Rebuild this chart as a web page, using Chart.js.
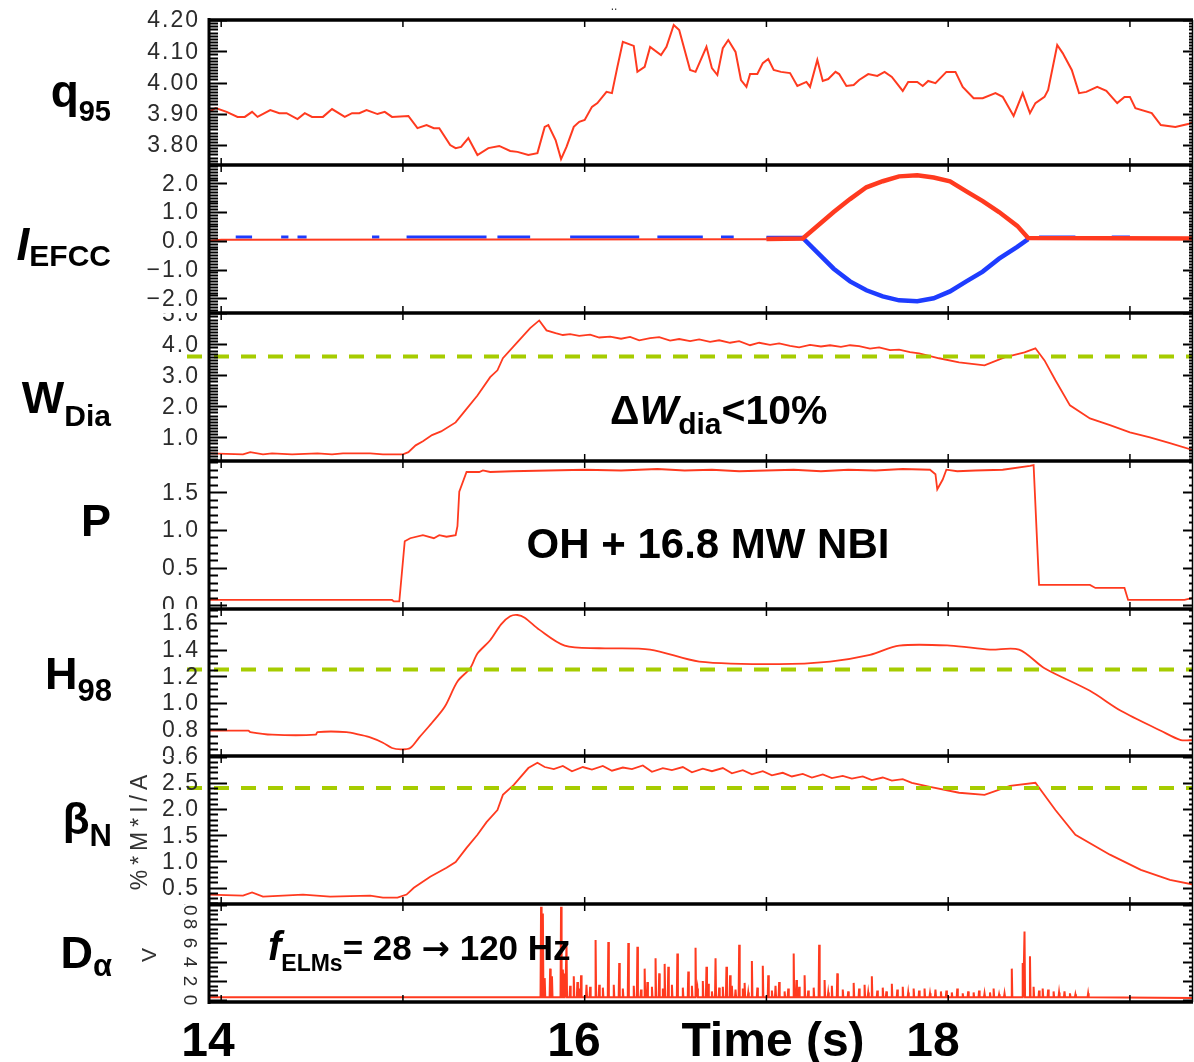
<!DOCTYPE html>
<html><head><meta charset="utf-8">
<script src="https://cdn.jsdelivr.net/npm/chart.js@4.4.1/dist/chart.umd.min.js"></script>
<style>
html,body{margin:0;padding:0;background:#fff;}
#wrap{position:relative;width:1194px;height:1062px;overflow:hidden;background:#fff;}
#wrap canvas{position:absolute;left:0;}
</style></head><body><div id="wrap"></div>
<script>
// ================= DATA =================
const timeTicks = [14, 15, 16, 17, 18, 19];
const bottomTimeLabels = ['14', '16', '18'];

// q95
const q95Ticks = [3.80, 3.90, 4.00, 4.10, 4.20];
const q95Time = [13.93,13.97,14.03,14.09,14.13,14.17,14.20,14.27,14.32,14.36,14.42,14.46,14.50,14.56,14.61,14.68,14.72,14.76,14.80,14.86,14.90,14.94,15.03,15.08,15.13,15.17,15.20,15.26,15.29,15.32,15.36,15.41,15.47,15.53,15.59,15.63,15.69,15.74,15.78,15.80,15.84,15.87,15.90,15.94,15.97,16.00,16.04,16.07,16.12,16.15,16.18,16.21,16.27,16.29,16.33,16.36,16.42,16.45,16.49,16.52,16.58,16.61,16.67,16.70,16.73,16.76,16.79,16.83,16.86,16.89,16.91,16.95,16.98,17.01,17.04,17.08,17.13,17.17,17.22,17.24,17.28,17.31,17.34,17.38,17.40,17.44,17.48,17.51,17.56,17.61,17.65,17.69,17.75,17.78,17.83,17.86,17.89,17.93,17.99,18.04,18.08,18.14,18.19,18.26,18.30,18.36,18.41,18.45,18.48,18.53,18.55,18.60,18.63,18.68,18.72,18.76,18.82,18.87,18.93,18.97,19.00,19.03,19.12,19.17,19.25,19.32,19.35];
const q95Value = [3.906,3.918,3.906,3.890,3.890,3.906,3.890,3.912,3.902,3.902,3.883,3.902,3.890,3.890,3.915,3.890,3.902,3.902,3.912,3.899,3.906,3.890,3.893,3.854,3.864,3.854,3.854,3.800,3.790,3.794,3.822,3.768,3.790,3.797,3.781,3.778,3.768,3.774,3.858,3.864,3.816,3.755,3.794,3.858,3.874,3.880,3.922,3.934,3.970,3.966,4.050,4.130,4.117,4.034,4.050,4.114,4.088,4.114,4.184,4.168,4.040,4.034,4.114,4.046,4.024,4.110,4.136,4.098,4.008,3.986,4.027,4.027,4.062,4.075,4.040,4.034,4.030,3.989,4.002,3.986,4.072,4.005,4.011,4.034,4.027,3.989,3.992,4.008,4.027,4.021,4.034,4.018,3.973,4.002,4.002,3.989,4.005,3.998,4.034,4.034,3.986,3.950,3.950,3.966,3.954,3.893,3.966,3.902,3.934,3.954,3.976,4.120,4.094,4.040,3.966,3.970,3.986,3.973,3.934,3.954,3.954,3.918,3.902,3.864,3.858,3.867,3.874];

// I_EFCC (kA): red and blue coil currents
const efccTicks = [-2.0, -1.0, 0.0, 1.0, 2.0];
const efccRedFlatTime = [13.93, 14.00, 17.00];
const efccRedFlatValue = [0.00, 0.04, 0.05];
const efccRedTime = [17.00,17.20,17.37,17.46,17.55,17.64,17.73,17.83,17.92,18.01,18.10,18.19,18.28,18.38,18.44,19.35];
const efccRedValue = [0.06,0.08,1.00,1.45,1.86,2.07,2.24,2.28,2.20,2.07,1.72,1.38,1.00,0.52,0.10,0.08];
const efccBlueTime = [17.00,17.20,17.37,17.46,17.55,17.64,17.73,17.83,17.92,18.01,18.10,18.19,18.28,18.38,18.44];
const efccBlueValue = [0.10,0.10,-0.97,-1.41,-1.72,-1.93,-2.07,-2.10,-2.00,-1.76,-1.41,-1.07,-0.62,-0.21,0.06];
const efccBlueLevel = 0.13;
const efccBlueSegStart = [14.08,14.33,14.42,14.83,15.02,15.52,15.92,16.40,16.75,18.50,18.90];
const efccBlueSegEnd   = [14.17,14.37,14.47,14.87,15.46,15.70,16.30,16.65,16.82,18.70,19.00];

// W_Dia (MJ)
const wdiaTicks = [1.0, 2.0, 3.0, 4.0, 5.0];
const wdiaRef = 3.61;
const wdiaTime = [13.93,14.12,14.16,14.23,14.28,14.39,14.53,14.61,14.67,14.82,14.89,15.00,15.03,15.07,15.11,15.16,15.21,15.29,15.33,15.41,15.48,15.52,15.55,15.63,15.70,15.75,15.79,15.84,15.88,15.92,15.97,16.03,16.08,16.14,16.20,16.25,16.30,16.36,16.41,16.47,16.52,16.58,16.63,16.69,16.74,16.80,16.85,16.91,16.96,17.02,17.07,17.13,17.18,17.24,17.30,17.35,17.41,17.46,17.51,17.57,17.62,17.68,17.73,17.79,17.84,17.95,18.06,18.20,18.31,18.42,18.48,18.53,18.59,18.67,18.78,18.89,19.00,19.11,19.22,19.35];
const wdiaValue = [0.48,0.45,0.52,0.45,0.48,0.45,0.48,0.45,0.48,0.48,0.45,0.45,0.52,0.74,0.87,1.07,1.19,1.48,1.77,2.35,2.94,3.16,3.55,4.07,4.52,4.77,4.45,4.36,4.30,4.33,4.27,4.31,4.22,4.25,4.18,4.24,4.13,4.20,4.23,4.12,4.17,4.10,4.16,4.08,4.13,4.05,4.10,3.97,4.05,3.98,4.03,3.95,3.90,3.98,3.93,3.97,3.92,3.97,3.94,3.86,3.90,3.81,3.83,3.75,3.71,3.55,3.42,3.32,3.58,3.74,3.87,3.48,2.84,2.03,1.61,1.39,1.16,1.00,0.81,0.58];

// P (x10 MW)
const pTicks = [0.0, 0.5, 1.0, 1.5];
const pTime = [13.93,14.94,14.95,14.98,15.01,15.04,15.11,15.17,15.20,15.24,15.29,15.30,15.31,15.35,15.42,15.44,15.48,15.60,15.80,16.00,16.20,16.40,16.55,16.70,16.85,17.00,17.15,17.30,17.45,17.60,17.75,17.90,17.93,17.94,17.97,17.99,18.05,18.15,18.30,18.45,18.47,18.50,18.78,18.81,18.97,18.99,19.30,19.35];
const pValue = [0.07,0.07,0.05,0.05,0.85,0.89,0.93,0.89,0.93,0.91,0.93,1.05,1.51,1.77,1.77,1.79,1.77,1.78,1.79,1.80,1.79,1.81,1.79,1.80,1.78,1.79,1.80,1.78,1.80,1.79,1.81,1.80,1.74,1.54,1.67,1.80,1.78,1.79,1.80,1.85,1.86,0.27,0.27,0.23,0.23,0.07,0.07,0.10];

// H98
const h98Ticks = [0.6, 0.8, 1.0, 1.2, 1.4, 1.6];
const h98Ref = 1.25;
const h98Time = [13.93,14.15,14.16,14.28,14.52,14.53,14.69,14.76,14.82,14.89,14.94,14.99,15.04,15.09,15.16,15.23,15.30,15.37,15.41,15.48,15.54,15.59,15.63,15.67,15.75,15.89,16.08,16.36,16.63,17.07,17.35,17.57,17.73,18.01,18.23,18.39,18.53,18.78,18.95,19.17,19.28,19.35];
const h98Value = [0.79,0.79,0.78,0.76,0.76,0.78,0.78,0.76,0.74,0.70,0.66,0.65,0.66,0.74,0.85,0.97,1.16,1.26,1.37,1.47,1.59,1.65,1.66,1.64,1.55,1.43,1.41,1.40,1.31,1.29,1.31,1.36,1.43,1.43,1.40,1.40,1.26,1.09,0.94,0.79,0.72,0.72];

// beta_N
const betaTicks = [0.5, 1.0, 1.5, 2.0, 2.5, 3.0];
const betaRef = 2.40;
const betaTime = [13.93,14.12,14.17,14.23,14.45,14.60,14.82,14.89,14.97,15.02,15.06,15.15,15.24,15.29,15.35,15.41,15.46,15.52,15.55,15.61,15.69,15.74,15.78,15.83,15.88,15.93,15.99,16.04,16.10,16.15,16.21,16.26,16.32,16.37,16.43,16.48,16.54,16.59,16.65,16.70,16.76,16.81,16.87,16.92,16.98,17.03,17.09,17.14,17.20,17.25,17.31,17.36,17.42,17.47,17.53,17.58,17.64,17.69,17.75,17.80,17.90,18.06,18.20,18.34,18.48,18.59,18.70,18.89,19.06,19.22,19.35];
const betaValue = [0.37,0.35,0.41,0.33,0.37,0.33,0.35,0.31,0.31,0.37,0.50,0.71,0.88,0.99,1.26,1.51,1.75,1.98,2.27,2.46,2.78,2.88,2.80,2.76,2.82,2.72,2.80,2.75,2.82,2.73,2.79,2.76,2.83,2.71,2.78,2.74,2.80,2.70,2.77,2.72,2.78,2.68,2.74,2.66,2.72,2.64,2.69,2.62,2.67,2.60,2.66,2.59,2.63,2.58,2.62,2.55,2.60,2.54,2.57,2.50,2.42,2.31,2.27,2.44,2.50,1.98,1.51,1.13,0.84,0.65,0.56];

// D_alpha (V): baseline + ELM spikes
const daTicks = [0, 2, 4, 6, 8, 10];
const daBase = 0.3;
const elmTime = [15.76,15.77,15.78,15.81,15.82,15.87,15.88,15.89,15.90,15.94,15.96,15.98,16.01,16.06,16.08,16.13,16.19,16.24,16.29,16.33,16.345,16.39,16.41,16.44,16.46,16.51,16.57,16.61,16.65,16.67,16.72,16.78,16.80,16.85,16.88,16.92,16.98,17.01,17.07,17.15,17.165,17.21,17.29,17.32,17.39,17.48,17.58,17.69,17.81,18.25,18.35,18.41,18.42,18.45,18.55,18.77];
const elmHeight = [9.8,9.1,2.3,3.3,2.5,9.8,3.2,2.8,5.8,2.5,1.9,2.6,1.6,6.3,1.6,6.1,3.9,6.0,5.6,3.3,1.9,4.4,2.8,3.8,3.5,4.9,3.0,5.5,2.0,3.5,4.4,3.5,2.6,5.8,1.8,4.1,3.6,2.6,1.9,4.9,2.1,2.6,5.8,2.1,2.8,1.8,2.5,1.7,1.2,1.2,3.3,3.9,7.2,4.6,1.1,0.7];
const grassTime = [15.92,15.97,16.03,16.10,16.16,16.21,16.27,16.31,16.37,16.43,16.48,16.54,16.59,16.68,16.74,16.81,16.87,16.62,16.70,16.76,16.83,16.90,16.95,17.03,17.05,17.10,17.12,17.18,17.23,17.26,17.34,17.36,17.42,17.45,17.51,17.54,17.56,17.61,17.64,17.66,17.72,17.75,17.78,17.84,17.87,17.90,17.93,17.96,17.99,18.02,18.05,18.08,18.11,18.14,18.17,18.20,18.23,18.28,18.31,18.47,18.50,18.52,18.58,18.61,18.64,18.67,18.70];
const grassHeight = [1.5,1.2,1.4,1.3,1.6,1.2,1.5,1.1,1.4,1.2,1.6,1.3,1.5,1.7,1.3,1.5,1.2,1.2,0.9,1.4,1.1,0.8,1.3,1.0,1.5,0.9,1.2,1.4,1.0,1.3,0.8,1.5,1.1,0.9,1.2,1.6,0.8,1.0,1.3,0.9,1.1,1.4,0.8,1.0,1.2,0.7,1.1,0.9,1.0,0.8,1.2,0.7,0.9,0.8,1.0,0.7,0.8,0.6,0.7,1.4,1.0,1.2,0.9,0.8,0.9,0.7,0.6];

// ================= STYLE / LAYOUT =================
const RED = '#ff3a1f', BLUE = '#1e3cff', GREEN = '#a6cc00';
const SANS = '"Liberation Sans", Arial, Helvetica, sans-serif';
const X_MIN = 13.933, X_MAX = 19.347;
const LEFT = 209, RIGHT = 1193, W = 1194, H = 1062;

function series(ts, vs) { return ts.map((t, i) => ({ x: t, y: vs[i] })); }
function line(data, color, width, extra) {
  return Object.assign({ data, borderColor: color, borderWidth: width, pointRadius: 0, fill: false, tension: 0 }, extra || {});
}
function blueSegments() {
  const out = [];
  efccBlueSegStart.forEach((s, i) => {
    out.push({ x: s, y: efccBlueLevel }, { x: efccBlueSegEnd[i], y: efccBlueLevel }, { x: efccBlueSegEnd[i] + 0.001, y: null });
  });
  return out;
}
function daSeries() {
  const all = elmTime.map((t, i) => [t, elmHeight[i]]).concat(grassTime.map((t, i) => [t, grassHeight[i]])).sort((a, b) => a[0] - b[0]);
  const out = [{ x: X_MIN, y: daBase }];
  all.forEach(([t, h]) => { out.push({ x: t - 0.003, y: daBase }, { x: t, y: h }, { x: t + 0.003, y: daBase }); });
  out.push({ x: X_MAX, y: daBase * 0.7 });
  return out;
}
const B = s => 'bold ' + s + 'px ' + SANS;
const BI = s => 'italic bold ' + s + 'px ' + SANS;
const ARROW = s => 'bold ' + s + 'px "DejaVu Sans", ' + SANS;

const panels = [
  { top: 20, bottom: 165, yMin: 3.736, yMax: 4.20, ticks: q95Ticks, minor: 0.01, dec: 2,
    datasets: [line(series(q95Time, q95Value), RED, 2)],
    titles: [{ parts: [{ t: 'q', f: B(46) }, { t: '95', f: B(29), dy: 14 }], x: 111, y: 107 }],
    extras: [{ parts: [{ t: '..', f: '12px ' + SANS }], x: 614, y: 10, align: 'center', color: '#333' }] },
  { top: 165, bottom: 313, yMin: -2.51, yMax: 2.635, ticks: efccTicks, minor: 0.1, dec: 1,
    datasets: [
      line(series(efccRedFlatTime, efccRedFlatValue), RED, 2),
      line(series(efccRedTime, efccRedValue), RED, 4.5),
      line(series(efccBlueTime, efccBlueValue), BLUE, 4.5),
      line(blueSegments(), BLUE, 3)],
    titles: [{ parts: [{ t: 'I', f: BI(46) }, { t: 'EFCC', f: B(30), dy: 6 }], x: 111, y: 260 }] },
  { top: 313, bottom: 461, yMin: 0.235, yMax: 5.01, ticks: wdiaTicks, minor: 0.1, dec: 1, ref: wdiaRef,
    datasets: [line(series(wdiaTime, wdiaValue), RED, 1.8)],
    titles: [{ parts: [{ t: 'W', f: B(45) }, { t: 'Dia', f: B(30), dy: 13 }], x: 111, y: 413 }],
    extras: [{ parts: [{ t: '\u0394', f: B(41) }, { t: 'W', f: BI(41) }, { t: 'dia', f: B(30), dy: 10 }, { t: '<10%', f: B(41) }], x: 610, y: 424 }] },
  { top: 461, bottom: 609, yMin: -0.05, yMax: 1.916, ticks: pTicks, minor: 0.1, dec: 1,
    datasets: [line(series(pTime, pValue), RED, 1.8)],
    titles: [{ parts: [{ t: 'P', f: B(45) }], x: 111, y: 536 }],
    extras: [{ parts: [{ t: 'OH + 16.8 MW NBI', f: B(42) }], x: 708, y: 558, align: 'center' }] },
  { top: 609, bottom: 756, yMin: 0.6, yMax: 1.705, ticks: h98Ticks, minor: 0.05, dec: 1, ref: h98Ref,
    datasets: [line(series(h98Time, h98Value), RED, 1.8, { tension: 0.3 })],
    titles: [{ parts: [{ t: 'H', f: B(45) }, { t: '98', f: B(31), dy: 12 }], x: 112, y: 689 }] },
  { top: 756, bottom: 904, yMin: 0.19, yMax: 3.01, ticks: betaTicks, minor: 0.1, dec: 1, ref: betaRef,
    datasets: [line(series(betaTime, betaValue), RED, 1.8)],
    titles: [{ parts: [{ t: '\u03B2', f: B(44) }, { t: 'N', f: B(31), dy: 12 }], x: 112, y: 834 }],
    extras: [{ parts: [{ t: '%*M*I/A', f: '23px ' + SANS }], x: 141, y: 830, rot: -1, spacing: '5px', color: '#333' }] },
  { top: 904, bottom: 1002, yMin: -0.21, yMax: 10.1, ticks: daTicks, minor: 0.5, dec: 0, rotLabels: true,
    datasets: [line(daSeries(), RED, 2)],
    titles: [{ parts: [{ t: 'D', f: B(45) }, { t: '\u03B1', f: B(31), dy: 8 }], x: 112, y: 968 }],
    extras: [
      { parts: [{ t: 'V', f: '21px ' + SANS }], x: 150, y: 955, rot: -1, color: '#333' },
      { parts: [{ t: 'f', f: BI(40) }, { t: 'ELMs', f: B(23), dy: 11 }, { t: '= 28 ', f: B(35) }, { t: '\u2192', f: ARROW(34) }, { t: ' 120 Hz', f: B(35) }], x: 268, y: 960 },
      { parts: [{ t: bottomTimeLabels[0], f: B(48) }], x: 208, y: 1056, align: 'center' },
      { parts: [{ t: bottomTimeLabels[1], f: B(48) }], x: 574, y: 1056, align: 'center' },
      { parts: [{ t: 'Time (s)', f: B(48) }], x: 773, y: 1056, align: 'center' },
      { parts: [{ t: bottomTimeLabels[2], f: B(48) }], x: 933, y: 1056, align: 'center' }] }
];

function drawRich(ctx, parts, x, y, align) {
  let w = 0;
  parts.forEach(p => { ctx.font = p.f; w += ctx.measureText(p.t).width; });
  let cx = x;
  if (align === 'right') cx = x - w;
  else if (align === 'center') cx = x - w / 2;
  ctx.textAlign = 'left'; ctx.textBaseline = 'alphabetic';
  parts.forEach(p => { ctx.font = p.f; ctx.fillText(p.t, cx, y + (p.dy || 0)); cx += ctx.measureText(p.t).width; });
}

function fmt(v, dec) {
  const s = Math.abs(v).toFixed(dec);
  return (v < -1e-9 ? '\u2212' : '') + s;
}

function makeDecor(p, cTop) {
  return {
    id: 'decor',
    afterDatasetsDraw(chart) {
      const ctx = chart.ctx, a = chart.chartArea, ys = chart.scales.y, xs = chart.scales.x;
      ctx.save();
      // reference dashed line
      if (p.ref !== undefined) {
        const y = ys.getPixelForValue(p.ref);
        ctx.strokeStyle = GREEN; ctx.lineWidth = 4; ctx.setLineDash([15, 12]);
        ctx.beginPath(); ctx.moveTo(a.left - 22, y); ctx.lineTo(a.right, y); ctx.stroke();
        ctx.setLineDash([]);
      }
      ctx.strokeStyle = '#000';
      // frame
      ctx.lineWidth = 3.5;
      ctx.beginPath(); ctx.moveTo(a.left, a.top); ctx.lineTo(a.right, a.top); ctx.stroke();
      ctx.beginPath(); ctx.moveTo(a.left, a.bottom); ctx.lineTo(a.right, a.bottom); ctx.stroke();
      ctx.lineWidth = 3;
      ctx.beginPath(); ctx.moveTo(a.left, a.top - 2); ctx.lineTo(a.left, a.bottom + 2); ctx.stroke();
      ctx.lineWidth = 1.5;
      ctx.beginPath(); ctx.moveTo(a.right - 0.5, a.top); ctx.lineTo(a.right - 0.5, a.bottom); ctx.stroke();
      // y ticks
      const k0 = Math.ceil(p.yMin / p.minor - 1e-6), k1 = Math.floor(p.yMax / p.minor + 1e-6);
      ctx.lineWidth = 2;
      for (let k = k0; k <= k1; k++) {
        const v = k * p.minor;
        const major = p.ticks.some(t => Math.abs(t - v) < p.minor / 2);
        const y = Math.round(ys.getPixelForValue(v)) + 0.5;
        ctx.beginPath(); ctx.moveTo(a.left, y); ctx.lineTo(a.left + (major ? 18 : 9), y); ctx.stroke();
        ctx.beginPath(); ctx.moveTo(a.right, y); ctx.lineTo(a.right - (major ? 10 : 4), y); ctx.stroke();
      }
      // x ticks
      ctx.lineWidth = 1.5;
      timeTicks.forEach(t => {
        const x = xs.getPixelForValue(t);
        ctx.beginPath(); ctx.moveTo(x, a.top); ctx.lineTo(x, a.top + 7); ctx.stroke();
        ctx.beginPath(); ctx.moveTo(x, a.bottom); ctx.lineTo(x, a.bottom - 7); ctx.stroke();
      });
      // tick labels
      ctx.fillStyle = '#2b2b2b';
      ctx.font = '23px ' + SANS;
      p.ticks.forEach(v => {
        const y = ys.getPixelForValue(v);
        const s = fmt(v, p.dec);
        if (p.rotLabels) {
          ctx.save(); ctx.translate(189, y); ctx.rotate(Math.PI / 2);
          ctx.font = '19px ' + SANS; ctx.textAlign = 'center'; ctx.textBaseline = 'middle';
          ctx.fillText(s, 0, 0); ctx.restore();
        } else {
          ctx.textAlign = 'right'; ctx.textBaseline = 'middle';
          ctx.letterSpacing = '2px';
          ctx.fillText(s, 200, y + 1);
          ctx.letterSpacing = '0px';
        }
      });
      // titles
      ctx.fillStyle = '#000';
      (p.titles || []).forEach(t => drawRich(ctx, t.parts, t.x, t.y - cTop, 'right'));
      (p.extras || []).forEach(t => {
        ctx.fillStyle = t.color || '#000';
        if (t.rot) {
          ctx.save(); ctx.translate(t.x, t.y - cTop); ctx.rotate(t.rot * Math.PI / 2);
          ctx.font = t.parts[0].f; ctx.textAlign = 'center'; ctx.textBaseline = 'middle';
          if (t.spacing) ctx.letterSpacing = t.spacing;
          ctx.fillText(t.parts[0].t, 0, 0);
          ctx.letterSpacing = '0px';
          ctx.restore();
        } else {
          drawRich(ctx, t.parts, t.x, t.y - cTop, t.align);
        }
      });
      ctx.restore();
    }
  };
}

const wrap = document.getElementById('wrap');
panels.forEach((p, i) => {
  const cTop = i === 0 ? 0 : p.top;
  const cBot = i === panels.length - 1 ? H : p.bottom;
  const cv = document.createElement('canvas');
  cv.width = W; cv.height = cBot - cTop;
  cv.style.top = cTop + 'px';
  cv.style.width = W + 'px'; cv.style.height = (cBot - cTop) + 'px';
  wrap.appendChild(cv);
  new Chart(cv, {
    type: 'line',
    data: { datasets: p.datasets },
    options: {
      responsive: false, animation: false, events: [], devicePixelRatio: 1,
      layout: { padding: { left: LEFT, right: W - RIGHT, top: p.top - cTop, bottom: cBot - p.bottom } },
      scales: {
        x: { type: 'linear', min: X_MIN, max: X_MAX, display: false },
        y: { type: 'linear', min: p.yMin, max: p.yMax, display: false }
      },
      plugins: { legend: { display: false }, tooltip: { enabled: false } }
    },
    plugins: [makeDecor(p, cTop)]
  });
});
</script>
</body></html>
